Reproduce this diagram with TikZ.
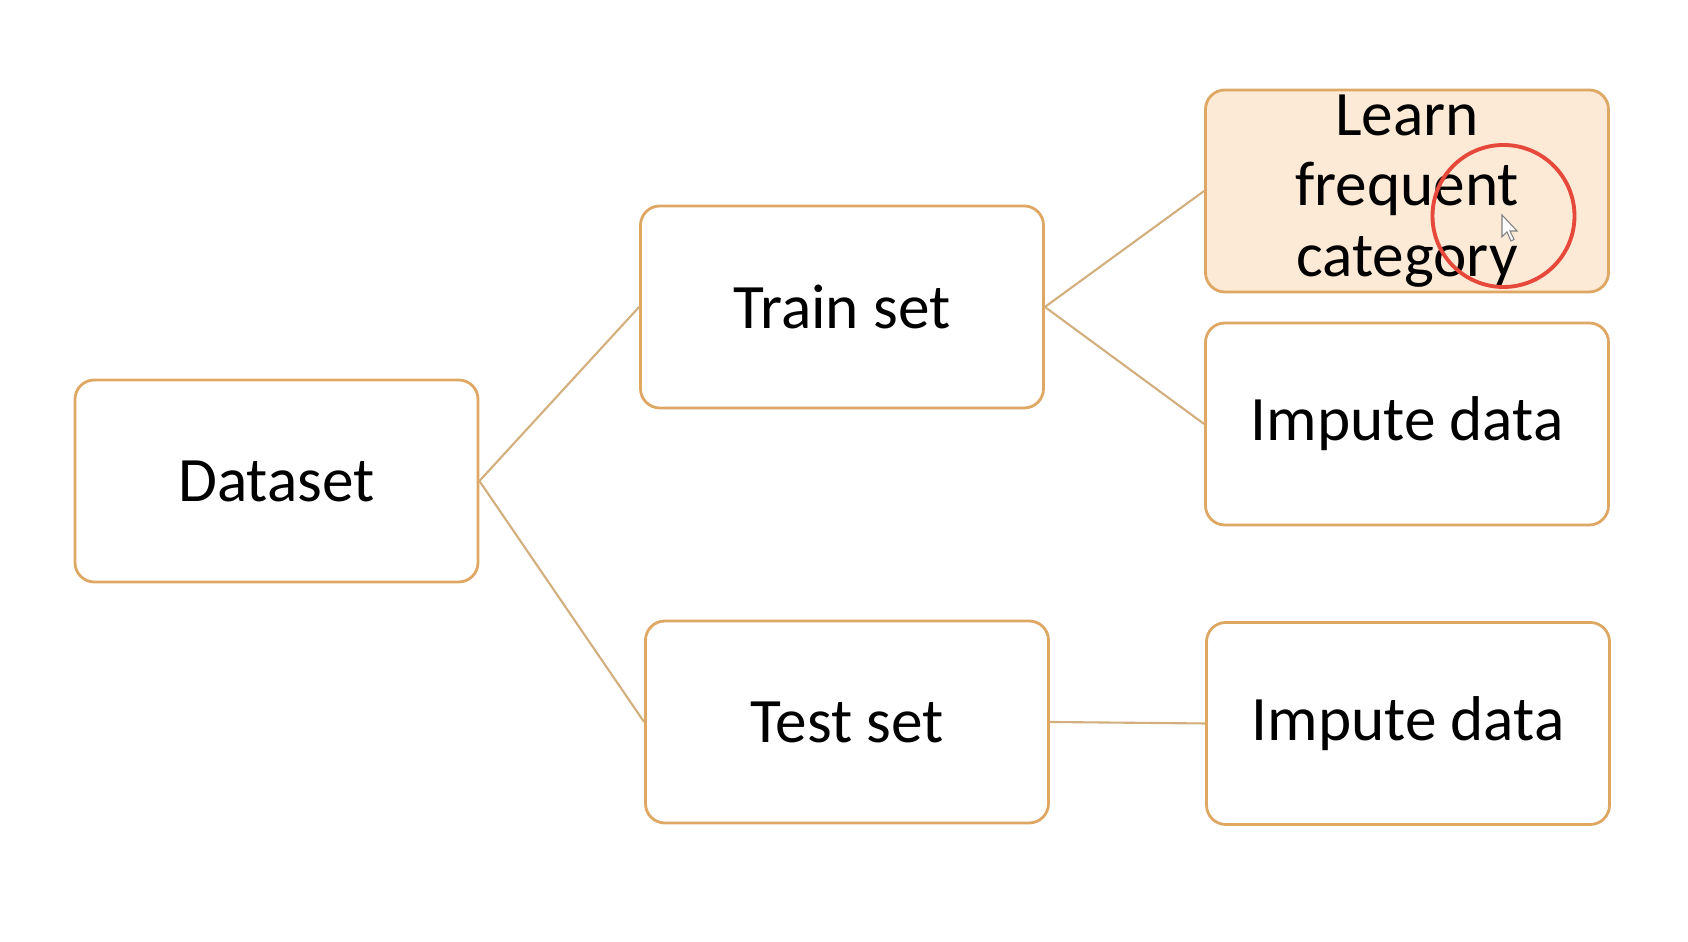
\documentclass[tikz,border=0pt]{standalone}
\usepackage{fontspec}
\setmainfont{Carlito}
\definecolor{boxline}{RGB}{222,168,100}
\definecolor{linkline}{RGB}{210,175,125}
\definecolor{learnfill}{RGB}{252,234,214}
\definecolor{markred}{RGB}{230,72,60}
\begin{document}
\begin{tikzpicture}[
		stagebox/.style={draw=boxline,line width=0.8pt,rounded corners=5.5pt,fill=white,
			minimum width=4.03cm,minimum height=2.02cm,inner sep=0pt,align=center,
			font=\fontsize{18}{20}\selectfont},
		link/.style={draw=linkline,line width=0.6pt}]
		\useasboundingbox[fill=white] (0,0) rectangle (16.88,9.42);
		\node[stagebox] (data) at (2.765,4.61) {Dataset};
		\node[stagebox] (train) at (8.42,6.35) {Train set};
		\node[stagebox] (test) at (8.47,2.20) {Test set};
		\node[stagebox,fill=learnfill] (learn) at (14.07,7.51) {Learn\\frequent\\category};
		\node[stagebox] (imptrain) at (14.07,5.18) {Impute data};
		\node[stagebox] (imptest) at (14.08,2.185) {Impute data};
		\draw[link] (data.east) -- (train.west);
		\draw[link] (data.east) -- (test.west);
		\draw[link] (train.east) -- (learn.west);
		\draw[link] (train.east) -- (imptrain.west);
		\draw[link] (test.east) -- (imptest.west);
		
		\draw[markred,line width=1.1pt] (15.035,7.26) circle[radius=0.71];
		\coordinate (tip) at (15.02,7.27);
		\draw[gray,fill=white,line width=0.3pt] (tip) -- ++(0,-0.22) -- ++(0.05,0.05) -- ++(0.04,-0.09) -- ++(0.03,0.015) -- ++(-0.04,0.085) -- ++(0.07,0) -- cycle;
	\end{tikzpicture}
\end{document}
